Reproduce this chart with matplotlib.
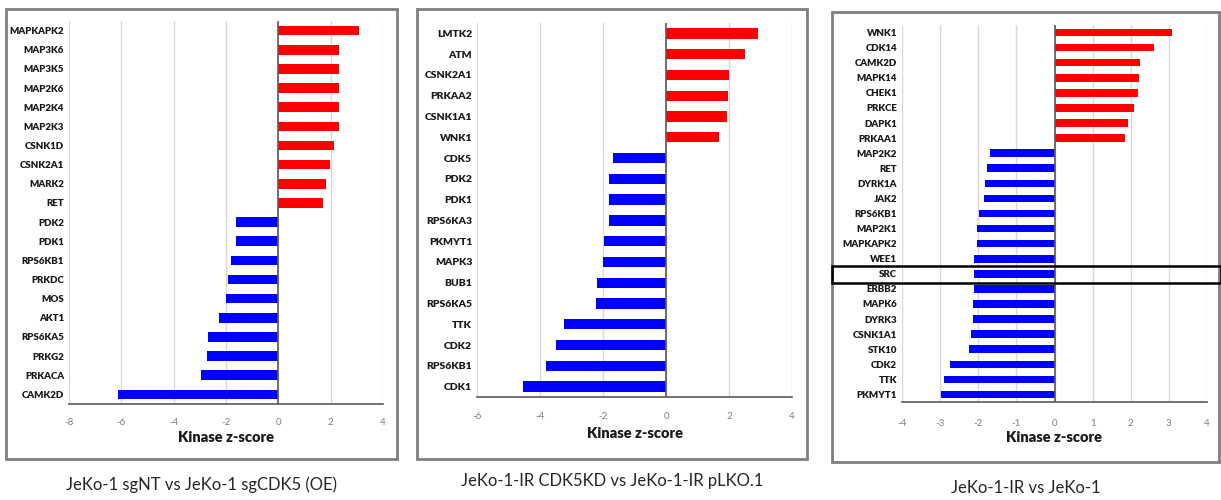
import matplotlib
matplotlib.use('Agg')
import matplotlib.pyplot as plt
from matplotlib.patches import Rectangle
import numpy as np

plt.rcParams['font.family'] = ['Lato', 'DejaVu Sans']

# panel 1: JeKo-1 sgNT vs JeKo-1 sgCDK5 (OE)
kin1 = ['MAPKAPK2', 'MAP3K6', 'MAP3K5', 'MAP2K6', 'MAP2K4', 'MAP2K3', 'CSNK1D',
        'CSNK2A1', 'MARK2', 'RET', 'PDK2', 'PDK1', 'RPS6KB1', 'PRKDC', 'MOS',
        'AKT1', 'RPS6KA5', 'PRKG2', 'PRKACA', 'CAMK2D']
z1 = [3.08, 2.3, 2.3, 2.3, 2.3, 2.3, 2.13, 1.97, 1.83, 1.71, -1.62, -1.62, -1.81,
      -1.92, -2.0, -2.28, -2.67, -2.74, -2.95, -6.12]

# panel 2: JeKo-1-IR CDK5KD vs JeKo-1-IR pLKO.1
kin2 = ['LMTK2', 'ATM', 'CSNK2A1', 'PRKAA2', 'CSNK1A1', 'WNK1', 'CDK5', 'PDK2',
        'PDK1', 'RPS6KA3', 'PKMYT1', 'MAPK3', 'BUB1', 'RPS6KA5', 'TTK', 'CDK2',
        'RPS6KB1', 'CDK1']
z2 = [2.92, 2.51, 2.01, 1.98, 1.93, 1.69, -1.67, -1.8, -1.8, -1.81, -1.96, -1.99,
      -2.18, -2.21, -3.24, -3.5, -3.8, -4.55]

# panel 3: JeKo-1-IR vs JeKo-1
kin3 = ['WNK1', 'CDK14', 'CAMK2D', 'MAPK14', 'CHEK1', 'PRKCE', 'DAPK1', 'PRKAA1',
        'MAP2K2', 'RET', 'DYRK1A', 'JAK2', 'RPS6KB1', 'MAP2K1', 'MAPKAPK2', 'WEE1',
        'SRC', 'ERBB2', 'MAPK6', 'DYRK3', 'CSNK1A1', 'STK10', 'CDK2', 'TTK', 'PKMYT1']
z3 = [3.09, 2.62, 2.23, 2.21, 2.19, 2.08, 1.94, 1.84, -1.7, -1.78, -1.81, -1.85,
      -1.97, -2.04, -2.04, -2.11, -2.11, -2.11, -2.13, -2.13, -2.2, -2.23, -2.74,
      -2.9, -2.98]

captions = ['JeKo-1 sgNT vs JeKo-1 sgCDK5 (OE)',
            'JeKo-1-IR CDK5KD vs JeKo-1-IR pLKO.1',
            'JeKo-1-IR vs JeKo-1']

W, H = 1221, 500
fig = plt.figure(figsize=(W / 100, H / 100), dpi=100)


def px_axes(l, r, t, b):
    return fig.add_axes([l / W, 1 - b / H, (r - l) / W, (b - t) / H])


def box(l, r, t, b, color='#7f7f7f', lw=2):
    fig.patches.append(Rectangle((l / W, 1 - b / H), (r - l) / W, (b - t) / H,
                                 transform=fig.transFigure, fill=False,
                                 edgecolor=color, lw=lw))


# axes px (l, r, t, b), x range, frame px, tick y, xlabel y, caption y, label size
panels = [
    (kin1, z1, (69, 383, 21, 404), (-8, 4, 2), (6, 397, 9, 459), 418, 437, 485, 7),
    (kin2, z2, (477, 792, 23, 397), (-6, 4, 2), (417, 807, 9, 459), 412, 433, 481, 7.5),
    (kin3, z3, (902, 1207, 25, 402), (-4, 4, 1), (832, 1219, 12, 462), 418, 438, 488, 7),
]

for i, (kin, z, ax_px, xr, box_px, tick_y, lab_y, cap_y, fs) in enumerate(panels):
    ax = px_axes(*ax_px)
    y = np.arange(len(kin))
    colors = ['#ff0000' if v > 0 else '#0000ff' for v in z]
    ax.barh(y, z, height=0.5, color=colors, zorder=3)
    ax.set_ylim(len(kin) - 0.5, -0.5)
    ax.set_xlim(xr[0], xr[1])
    xt = np.arange(xr[0], xr[1] + 0.1, xr[2])
    ax.set_xticks(xt)
    ax.set_xticklabels([str(int(v)) for v in xt], color='#7f7f7f', fontsize=7)
    ax.set_yticks(y)
    ax.set_yticklabels(kin, fontweight='heavy', fontsize=fs, color='#1a1a1a')
    ax.tick_params(length=0)
    ax.tick_params(axis='x', pad=(tick_y - ax_px[3]) - 4)
    ax.grid(axis='x', color='#d9d9d9', lw=1, zorder=0)
    for s in ['top', 'right', 'left']:
        ax.spines[s].set_visible(False)
    ax.spines['bottom'].set_color('#595959')
    ax.spines['bottom'].set_linewidth(1.2)
    ax.axvline(0, color='#595959', lw=1.2, zorder=4)
    cx = (ax_px[0] + ax_px[1]) / 2 / W
    fig.text(cx, 1 - lab_y / H, 'Kinase z-score', ha='center', va='center',
             fontweight='heavy', fontsize=10.5, color='#1a1a1a')
    bx = (box_px[0] + box_px[1]) / 2 / W
    fig.text(bx, 1 - cap_y / H, captions[i], ha='center', va='center',
             fontsize=12, color='#262626')
    box(*box_px)

# highlight SRC row in panel 3
box(832, 1221, 266, 283, color='black', lw=1.8)

plt.savefig('out.png', dpi=100)
